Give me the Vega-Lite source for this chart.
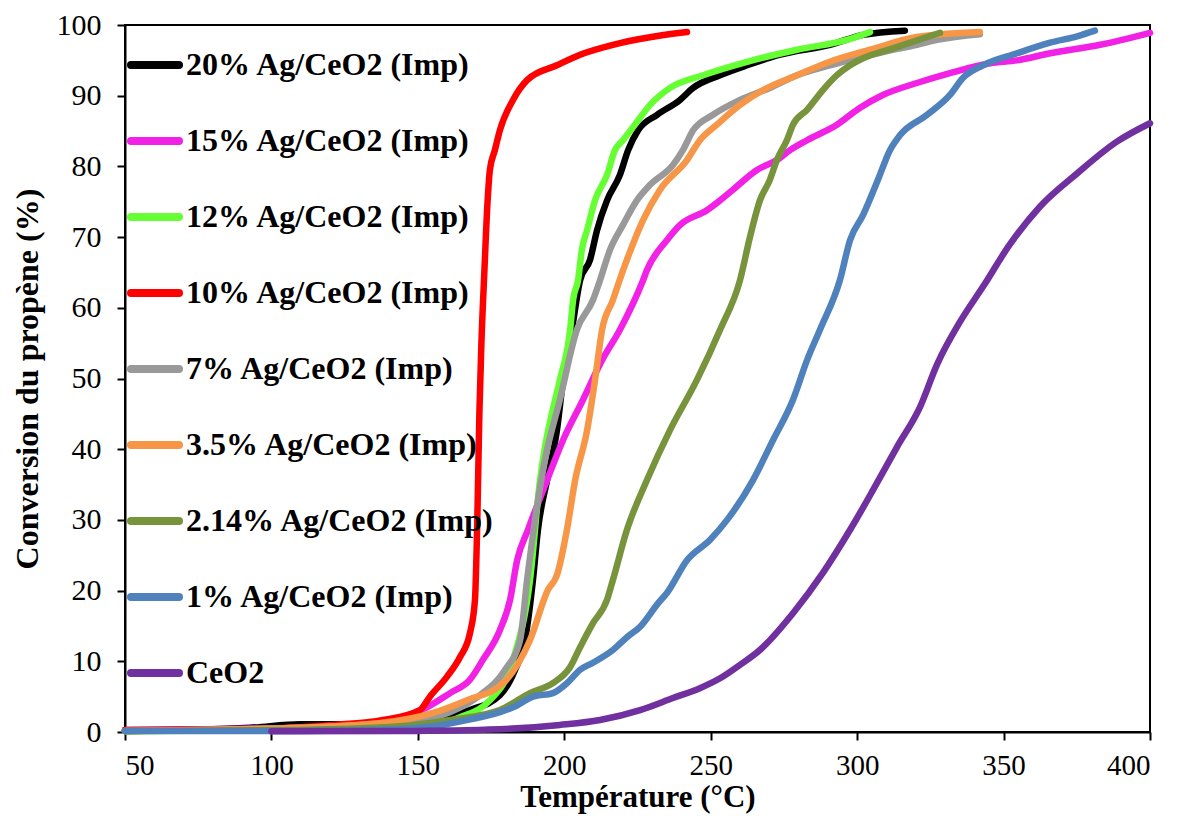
{
"$schema": "https://vega.github.io/schema/vega-lite/v6.json",
"width": 1025, "height": 707,
"autosize": {"type": "none"},
"padding": {"left": 125, "top": 25, "right": 27, "bottom": 84},
"background": "white",
"config": {"view": {"stroke": "black", "strokeWidth": 2}, "font": "Liberation Serif"},
"data": {"values": [
{"s":"20% Ag/CeO2 (Imp)","T":50,"C":0.15},{"s":"20% Ag/CeO2 (Imp)","T":92.7,"C":0.6},{"s":"20% Ag/CeO2 (Imp)","T":109.8,"C":1.1},{"s":"20% Ag/CeO2 (Imp)","T":126.8,"C":1.1},{"s":"20% Ag/CeO2 (Imp)","T":150,"C":1.4},{"s":"20% Ag/CeO2 (Imp)","T":167.8,"C":3.1},{"s":"20% Ag/CeO2 (Imp)","T":178,"C":5.2},{"s":"20% Ag/CeO2 (Imp)","T":183.2,"C":8.8},{"s":"20% Ag/CeO2 (Imp)","T":186.6,"C":13},{"s":"20% Ag/CeO2 (Imp)","T":189.3,"C":21.5},{"s":"20% Ag/CeO2 (Imp)","T":191,"C":28.6},{"s":"20% Ag/CeO2 (Imp)","T":194.1,"C":35.6},{"s":"20% Ag/CeO2 (Imp)","T":197.5,"C":42.7},{"s":"20% Ag/CeO2 (Imp)","T":199.6,"C":49.8},{"s":"20% Ag/CeO2 (Imp)","T":202.6,"C":56.9},{"s":"20% Ag/CeO2 (Imp)","T":205.4,"C":63.9},{"s":"20% Ag/CeO2 (Imp)","T":208.8,"C":66.8},{"s":"20% Ag/CeO2 (Imp)","T":211.2,"C":71},{"s":"20% Ag/CeO2 (Imp)","T":214.6,"C":75.2},{"s":"20% Ag/CeO2 (Imp)","T":219,"C":78.8},{"s":"20% Ag/CeO2 (Imp)","T":221.8,"C":82.3},{"s":"20% Ag/CeO2 (Imp)","T":225.2,"C":85.1},{"s":"20% Ag/CeO2 (Imp)","T":231.7,"C":87.3},{"s":"20% Ag/CeO2 (Imp)","T":239.5,"C":89.4},{"s":"20% Ag/CeO2 (Imp)","T":244,"C":91.1},{"s":"20% Ag/CeO2 (Imp)","T":253.2,"C":92.9},{"s":"20% Ag/CeO2 (Imp)","T":262.4,"C":94.3},{"s":"20% Ag/CeO2 (Imp)","T":273.7,"C":95.8},{"s":"20% Ag/CeO2 (Imp)","T":290.7,"C":97.2},{"s":"20% Ag/CeO2 (Imp)","T":302,"C":98.6},{"s":"20% Ag/CeO2 (Imp)","T":316.3,"C":99.2},
{"s":"15% Ag/CeO2 (Imp)","T":50,"C":0.3},{"s":"15% Ag/CeO2 (Imp)","T":109.8,"C":0.6},{"s":"15% Ag/CeO2 (Imp)","T":138.1,"C":1.4},{"s":"15% Ag/CeO2 (Imp)","T":153.1,"C":3.5},{"s":"15% Ag/CeO2 (Imp)","T":161,"C":5.5},{"s":"15% Ag/CeO2 (Imp)","T":167.8,"C":7.4},{"s":"15% Ag/CeO2 (Imp)","T":172.2,"C":10.2},{"s":"15% Ag/CeO2 (Imp)","T":178,"C":14.4},{"s":"15% Ag/CeO2 (Imp)","T":181.5,"C":18.7},{"s":"15% Ag/CeO2 (Imp)","T":183.9,"C":24.3},{"s":"15% Ag/CeO2 (Imp)","T":187.6,"C":28.6},{"s":"15% Ag/CeO2 (Imp)","T":194.1,"C":35.6},{"s":"15% Ag/CeO2 (Imp)","T":199.6,"C":41.3},{"s":"15% Ag/CeO2 (Imp)","T":206.4,"C":47},{"s":"15% Ag/CeO2 (Imp)","T":212.9,"C":52.6},{"s":"15% Ag/CeO2 (Imp)","T":219,"C":56.9},{"s":"15% Ag/CeO2 (Imp)","T":226.9,"C":63.9},{"s":"15% Ag/CeO2 (Imp)","T":228.2,"C":65.3},{"s":"15% Ag/CeO2 (Imp)","T":235.1,"C":69.6},{"s":"15% Ag/CeO2 (Imp)","T":239.5,"C":71.7},{"s":"15% Ag/CeO2 (Imp)","T":248.7,"C":73.8},{"s":"15% Ag/CeO2 (Imp)","T":253.2,"C":75.2},{"s":"15% Ag/CeO2 (Imp)","T":257.6,"C":76.7},{"s":"15% Ag/CeO2 (Imp)","T":265.8,"C":79.5},{"s":"15% Ag/CeO2 (Imp)","T":272.6,"C":80.9},{"s":"15% Ag/CeO2 (Imp)","T":277.1,"C":82.3},{"s":"15% Ag/CeO2 (Imp)","T":282.9,"C":83.7},{"s":"15% Ag/CeO2 (Imp)","T":293.1,"C":85.9},{"s":"15% Ag/CeO2 (Imp)","T":301,"C":88.3},{"s":"15% Ag/CeO2 (Imp)","T":308.8,"C":90.1},{"s":"15% Ag/CeO2 (Imp)","T":320.4,"C":91.8},{"s":"15% Ag/CeO2 (Imp)","T":331.7,"C":93.2},{"s":"15% Ag/CeO2 (Imp)","T":345.4,"C":94.6},{"s":"15% Ag/CeO2 (Imp)","T":354.6,"C":95},{"s":"15% Ag/CeO2 (Imp)","T":365.9,"C":96},{"s":"15% Ag/CeO2 (Imp)","T":383,"C":97.2},{"s":"15% Ag/CeO2 (Imp)","T":400,"C":98.9},
{"s":"12% Ag/CeO2 (Imp)","T":50,"C":0.1},{"s":"12% Ag/CeO2 (Imp)","T":109.8,"C":0.3},{"s":"12% Ag/CeO2 (Imp)","T":150,"C":0.6},{"s":"12% Ag/CeO2 (Imp)","T":164.4,"C":2.1},{"s":"12% Ag/CeO2 (Imp)","T":174.6,"C":4.5},{"s":"12% Ag/CeO2 (Imp)","T":182.5,"C":10.2},{"s":"12% Ag/CeO2 (Imp)","T":188.3,"C":21.5},{"s":"12% Ag/CeO2 (Imp)","T":191.7,"C":35.6},{"s":"12% Ag/CeO2 (Imp)","T":193.4,"C":40.3},{"s":"12% Ag/CeO2 (Imp)","T":195.8,"C":45.1},{"s":"12% Ag/CeO2 (Imp)","T":198.5,"C":49.8},{"s":"12% Ag/CeO2 (Imp)","T":202,"C":56.9},{"s":"12% Ag/CeO2 (Imp)","T":203,"C":61.1},{"s":"12% Ag/CeO2 (Imp)","T":204.7,"C":63.9},{"s":"12% Ag/CeO2 (Imp)","T":206,"C":68.2},{"s":"12% Ag/CeO2 (Imp)","T":207.8,"C":71},{"s":"12% Ag/CeO2 (Imp)","T":210.5,"C":75.2},{"s":"12% Ag/CeO2 (Imp)","T":214.6,"C":78.8},{"s":"12% Ag/CeO2 (Imp)","T":217.3,"C":82.3},{"s":"12% Ag/CeO2 (Imp)","T":220,"C":83.7},{"s":"12% Ag/CeO2 (Imp)","T":224.1,"C":85.9},{"s":"12% Ag/CeO2 (Imp)","T":229.3,"C":88.7},{"s":"12% Ag/CeO2 (Imp)","T":236.1,"C":91.1},{"s":"12% Ag/CeO2 (Imp)","T":247.4,"C":92.9},{"s":"12% Ag/CeO2 (Imp)","T":262.4,"C":94.8},{"s":"12% Ag/CeO2 (Imp)","T":279.5,"C":96.5},{"s":"12% Ag/CeO2 (Imp)","T":296.5,"C":97.9},{"s":"12% Ag/CeO2 (Imp)","T":304.4,"C":99},
{"s":"10% Ag/CeO2 (Imp)","T":50,"C":0.3},{"s":"10% Ag/CeO2 (Imp)","T":92.7,"C":0.4},{"s":"10% Ag/CeO2 (Imp)","T":121,"C":1.0},{"s":"10% Ag/CeO2 (Imp)","T":138.1,"C":1.7},{"s":"10% Ag/CeO2 (Imp)","T":150.7,"C":3.1},{"s":"10% Ag/CeO2 (Imp)","T":154.1,"C":5},{"s":"10% Ag/CeO2 (Imp)","T":159.9,"C":7.8},{"s":"10% Ag/CeO2 (Imp)","T":164.4,"C":10.6},{"s":"10% Ag/CeO2 (Imp)","T":167.8,"C":14},{"s":"10% Ag/CeO2 (Imp)","T":169.5,"C":18.7},{"s":"10% Ag/CeO2 (Imp)","T":170.3,"C":30},{"s":"10% Ag/CeO2 (Imp)","T":171,"C":45},{"s":"10% Ag/CeO2 (Imp)","T":171.7,"C":55},{"s":"10% Ag/CeO2 (Imp)","T":172.7,"C":65},{"s":"10% Ag/CeO2 (Imp)","T":173.8,"C":75},{"s":"10% Ag/CeO2 (Imp)","T":174.6,"C":79.5},{"s":"10% Ag/CeO2 (Imp)","T":176.3,"C":82.3},{"s":"10% Ag/CeO2 (Imp)","T":178,"C":85.1},{"s":"10% Ag/CeO2 (Imp)","T":182.5,"C":89.4},{"s":"10% Ag/CeO2 (Imp)","T":187.3,"C":92.2},{"s":"10% Ag/CeO2 (Imp)","T":197.5,"C":94.3},{"s":"10% Ag/CeO2 (Imp)","T":205.4,"C":95.8},{"s":"10% Ag/CeO2 (Imp)","T":216.6,"C":97.2},{"s":"10% Ag/CeO2 (Imp)","T":228.2,"C":98.2},{"s":"10% Ag/CeO2 (Imp)","T":241.9,"C":99.0},
{"s":"7% Ag/CeO2 (Imp)","T":50,"C":0.15},{"s":"7% Ag/CeO2 (Imp)","T":109.8,"C":0.6},{"s":"7% Ag/CeO2 (Imp)","T":150,"C":1.7},{"s":"7% Ag/CeO2 (Imp)","T":160.9,"C":2.8},{"s":"7% Ag/CeO2 (Imp)","T":171.2,"C":5.2},{"s":"7% Ag/CeO2 (Imp)","T":179.8,"C":8.8},{"s":"7% Ag/CeO2 (Imp)","T":184.9,"C":13},{"s":"7% Ag/CeO2 (Imp)","T":187.3,"C":21.5},{"s":"7% Ag/CeO2 (Imp)","T":190,"C":30},{"s":"7% Ag/CeO2 (Imp)","T":193.4,"C":38.5},{"s":"7% Ag/CeO2 (Imp)","T":198.5,"C":47},{"s":"7% Ag/CeO2 (Imp)","T":204.3,"C":56.9},{"s":"7% Ag/CeO2 (Imp)","T":209.8,"C":61.1},{"s":"7% Ag/CeO2 (Imp)","T":212.2,"C":63.9},{"s":"7% Ag/CeO2 (Imp)","T":215.6,"C":68.2},{"s":"7% Ag/CeO2 (Imp)","T":220,"C":71.7},{"s":"7% Ag/CeO2 (Imp)","T":224.8,"C":75.2},{"s":"7% Ag/CeO2 (Imp)","T":229.3,"C":77.4},{"s":"7% Ag/CeO2 (Imp)","T":237.1,"C":80.2},{"s":"7% Ag/CeO2 (Imp)","T":240.5,"C":82.3},{"s":"7% Ag/CeO2 (Imp)","T":244,"C":85.1},{"s":"7% Ag/CeO2 (Imp)","T":250.8,"C":87.3},{"s":"7% Ag/CeO2 (Imp)","T":260,"C":89.4},{"s":"7% Ag/CeO2 (Imp)","T":270.2,"C":91.1},{"s":"7% Ag/CeO2 (Imp)","T":279.5,"C":92.9},{"s":"7% Ag/CeO2 (Imp)","T":290.7,"C":94.3},{"s":"7% Ag/CeO2 (Imp)","T":302,"C":95.5},{"s":"7% Ag/CeO2 (Imp)","T":312.2,"C":96.5},{"s":"7% Ag/CeO2 (Imp)","T":320.4,"C":97.2},{"s":"7% Ag/CeO2 (Imp)","T":327.3,"C":97.9},{"s":"7% Ag/CeO2 (Imp)","T":341.9,"C":98.7},
{"s":"3.5% Ag/CeO2 (Imp)","T":50,"C":0.15},{"s":"3.5% Ag/CeO2 (Imp)","T":109.8,"C":0.6},{"s":"3.5% Ag/CeO2 (Imp)","T":138.1,"C":1.3},{"s":"3.5% Ag/CeO2 (Imp)","T":155.2,"C":2.7},{"s":"3.5% Ag/CeO2 (Imp)","T":166.8,"C":4.5},{"s":"3.5% Ag/CeO2 (Imp)","T":179.1,"C":6.9},{"s":"3.5% Ag/CeO2 (Imp)","T":188.3,"C":13},{"s":"3.5% Ag/CeO2 (Imp)","T":194.4,"C":20.1},{"s":"3.5% Ag/CeO2 (Imp)","T":197.5,"C":22.2},{"s":"3.5% Ag/CeO2 (Imp)","T":200.9,"C":28.6},{"s":"3.5% Ag/CeO2 (Imp)","T":203.7,"C":35.6},{"s":"3.5% Ag/CeO2 (Imp)","T":207.8,"C":42.7},{"s":"3.5% Ag/CeO2 (Imp)","T":210.5,"C":49.8},{"s":"3.5% Ag/CeO2 (Imp)","T":212.9,"C":56.9},{"s":"3.5% Ag/CeO2 (Imp)","T":216.6,"C":61.1},{"s":"3.5% Ag/CeO2 (Imp)","T":218.3,"C":63.2},{"s":"3.5% Ag/CeO2 (Imp)","T":221.4,"C":66.8},{"s":"3.5% Ag/CeO2 (Imp)","T":226.9,"C":72.4},{"s":"3.5% Ag/CeO2 (Imp)","T":232.7,"C":76.7},{"s":"3.5% Ag/CeO2 (Imp)","T":241.9,"C":80.9},{"s":"3.5% Ag/CeO2 (Imp)","T":246.3,"C":83.7},{"s":"3.5% Ag/CeO2 (Imp)","T":252.1,"C":85.9},{"s":"3.5% Ag/CeO2 (Imp)","T":260,"C":88.7},{"s":"3.5% Ag/CeO2 (Imp)","T":267.9,"C":90.8},{"s":"3.5% Ag/CeO2 (Imp)","T":279.5,"C":92.9},{"s":"3.5% Ag/CeO2 (Imp)","T":290.7,"C":94.8},{"s":"3.5% Ag/CeO2 (Imp)","T":304.4,"C":96.5},{"s":"3.5% Ag/CeO2 (Imp)","T":320.4,"C":98.3},{"s":"3.5% Ag/CeO2 (Imp)","T":341.9,"C":99},
{"s":"2.14% Ag/CeO2 (Imp)","T":50,"C":0.15},{"s":"2.14% Ag/CeO2 (Imp)","T":109.8,"C":0.3},{"s":"2.14% Ag/CeO2 (Imp)","T":143.9,"C":0.8},{"s":"2.14% Ag/CeO2 (Imp)","T":161,"C":1.7},{"s":"2.14% Ag/CeO2 (Imp)","T":178,"C":3.1},{"s":"2.14% Ag/CeO2 (Imp)","T":188.3,"C":5.5},{"s":"2.14% Ag/CeO2 (Imp)","T":196.1,"C":6.9},{"s":"2.14% Ag/CeO2 (Imp)","T":202,"C":9.2},{"s":"2.14% Ag/CeO2 (Imp)","T":205.4,"C":12},{"s":"2.14% Ag/CeO2 (Imp)","T":209.8,"C":15.4},{"s":"2.14% Ag/CeO2 (Imp)","T":214.6,"C":18.7},{"s":"2.14% Ag/CeO2 (Imp)","T":216.6,"C":21.5},{"s":"2.14% Ag/CeO2 (Imp)","T":221.4,"C":28.6},{"s":"2.14% Ag/CeO2 (Imp)","T":228.2,"C":35.6},{"s":"2.14% Ag/CeO2 (Imp)","T":236.1,"C":42.7},{"s":"2.14% Ag/CeO2 (Imp)","T":245.3,"C":49.8},{"s":"2.14% Ag/CeO2 (Imp)","T":253.2,"C":56.9},{"s":"2.14% Ag/CeO2 (Imp)","T":260,"C":63.9},{"s":"2.14% Ag/CeO2 (Imp)","T":263.4,"C":70},{"s":"2.14% Ag/CeO2 (Imp)","T":266.8,"C":75.2},{"s":"2.14% Ag/CeO2 (Imp)","T":270.2,"C":78.1},{"s":"2.14% Ag/CeO2 (Imp)","T":272.6,"C":80.9},{"s":"2.14% Ag/CeO2 (Imp)","T":276,"C":83.7},{"s":"2.14% Ag/CeO2 (Imp)","T":278.1,"C":85.9},{"s":"2.14% Ag/CeO2 (Imp)","T":282.9,"C":88},{"s":"2.14% Ag/CeO2 (Imp)","T":288.3,"C":90.8},{"s":"2.14% Ag/CeO2 (Imp)","T":293.1,"C":92.9},{"s":"2.14% Ag/CeO2 (Imp)","T":297.6,"C":94.3},{"s":"2.14% Ag/CeO2 (Imp)","T":302,"C":95.3},{"s":"2.14% Ag/CeO2 (Imp)","T":312.2,"C":96.7},{"s":"2.14% Ag/CeO2 (Imp)","T":328.3,"C":98.9},
{"s":"1% Ag/CeO2 (Imp)","T":50,"C":0.15},{"s":"1% Ag/CeO2 (Imp)","T":109.8,"C":0.15},{"s":"1% Ag/CeO2 (Imp)","T":143.9,"C":0.4},{"s":"1% Ag/CeO2 (Imp)","T":155.2,"C":0.8},{"s":"1% Ag/CeO2 (Imp)","T":166.8,"C":1.7},{"s":"1% Ag/CeO2 (Imp)","T":178,"C":2.8},{"s":"1% Ag/CeO2 (Imp)","T":182.5,"C":3.5},{"s":"1% Ag/CeO2 (Imp)","T":189.3,"C":5},{"s":"1% Ag/CeO2 (Imp)","T":196.1,"C":5.5},{"s":"1% Ag/CeO2 (Imp)","T":200.9,"C":6.9},{"s":"1% Ag/CeO2 (Imp)","T":205.4,"C":8.8},{"s":"1% Ag/CeO2 (Imp)","T":209.8,"C":9.8},{"s":"1% Ag/CeO2 (Imp)","T":216.6,"C":11.6},{"s":"1% Ag/CeO2 (Imp)","T":221.4,"C":13.4},{"s":"1% Ag/CeO2 (Imp)","T":225.9,"C":14.9},{"s":"1% Ag/CeO2 (Imp)","T":232,"C":18.2},{"s":"1% Ag/CeO2 (Imp)","T":235.1,"C":19.7},{"s":"1% Ag/CeO2 (Imp)","T":241.9,"C":24.3},{"s":"1% Ag/CeO2 (Imp)","T":249.8,"C":27.2},{"s":"1% Ag/CeO2 (Imp)","T":255.6,"C":30},{"s":"1% Ag/CeO2 (Imp)","T":264.4,"C":35.6},{"s":"1% Ag/CeO2 (Imp)","T":271.3,"C":41.3},{"s":"1% Ag/CeO2 (Imp)","T":278.1,"C":47},{"s":"1% Ag/CeO2 (Imp)","T":282.9,"C":52.6},{"s":"1% Ag/CeO2 (Imp)","T":287.3,"C":56.9},{"s":"1% Ag/CeO2 (Imp)","T":294.1,"C":63.9},{"s":"1% Ag/CeO2 (Imp)","T":297.6,"C":69.6},{"s":"1% Ag/CeO2 (Imp)","T":302,"C":73.1},{"s":"1% Ag/CeO2 (Imp)","T":307.1,"C":78.1},{"s":"1% Ag/CeO2 (Imp)","T":311.2,"C":82.3},{"s":"1% Ag/CeO2 (Imp)","T":314.6,"C":84.4},{"s":"1% Ag/CeO2 (Imp)","T":323.9,"C":87.3},{"s":"1% Ag/CeO2 (Imp)","T":331.7,"C":90.1},{"s":"1% Ag/CeO2 (Imp)","T":336.1,"C":92.5},{"s":"1% Ag/CeO2 (Imp)","T":343,"C":94.3},{"s":"1% Ag/CeO2 (Imp)","T":354.6,"C":96},{"s":"1% Ag/CeO2 (Imp)","T":365.9,"C":97.5},{"s":"1% Ag/CeO2 (Imp)","T":375.1,"C":98.4},{"s":"1% Ag/CeO2 (Imp)","T":381.2,"C":99.2},
{"s":"CeO2","T":100,"C":0.1},{"s":"CeO2","T":143.9,"C":0.15},{"s":"CeO2","T":178,"C":0.4},{"s":"CeO2","T":198.5,"C":1.0},{"s":"CeO2","T":212.2,"C":1.7},{"s":"CeO2","T":225.9,"C":3.1},{"s":"CeO2","T":237.1,"C":4.8},{"s":"CeO2","T":246.3,"C":6.2},{"s":"CeO2","T":253.2,"C":7.6},{"s":"CeO2","T":260,"C":9.5},{"s":"CeO2","T":266.8,"C":11.6},{"s":"CeO2","T":278.1,"C":16.8},{"s":"CeO2","T":288.3,"C":22.5},{"s":"CeO2","T":297.6,"C":28.6},{"s":"CeO2","T":305.4,"C":34.2},{"s":"CeO2","T":313.6,"C":40.3},{"s":"CeO2","T":321.5,"C":46},{"s":"CeO2","T":327.3,"C":52},{"s":"CeO2","T":335.1,"C":58},{"s":"CeO2","T":343,"C":63},{"s":"CeO2","T":352.2,"C":69},{"s":"CeO2","T":362.4,"C":74.3},{"s":"CeO2","T":375.1,"C":79},{"s":"CeO2","T":388.7,"C":83.5},{"s":"CeO2","T":400,"C":86.1}
]},
"mark": {"type": "line", "strokeWidth": 6.5, "strokeCap": "round", "strokeJoin": "round", "interpolate": "monotone"},
"encoding": {
  "x": {"field": "T", "type": "quantitative",
    "scale": {"domain": [50, 400], "nice": false, "zero": false},
    "axis": {"values": [50,100,150,200,250,300,350,400], "grid": false, "domainColor": "black", "domainWidth": 2, "tickColor": "black", "tickWidth": 2, "tickSize": 8, "labelFontSize": 29, "labelColor": "black", "labelFont": "Liberation Serif", "labelPadding": 11, "title": "Température (°C)", "titleFont": "Liberation Serif", "titleFontSize": 31, "titleFontWeight": "bold", "titleColor": "black", "titlePadding": 2}},
  "y": {"field": "C", "type": "quantitative",
    "scale": {"domain": [0, 100], "nice": false},
    "axis": {"values": [0,10,20,30,40,50,60,70,80,90,100], "grid": false, "domainColor": "black", "domainWidth": 2, "tickColor": "black", "tickWidth": 2, "tickSize": 8, "labelFontSize": 30, "labelColor": "black", "labelFont": "Liberation Serif", "labelPadding": 16, "title": "Conversion du propène (%)", "titleFont": "Liberation Serif", "titleFontSize": 32, "titleFontWeight": "bold", "titleColor": "black", "titlePadding": 12}},
  "color": {"field": "s", "type": "nominal",
    "scale": {"domain": ["20% Ag/CeO2 (Imp)","15% Ag/CeO2 (Imp)","12% Ag/CeO2 (Imp)","10% Ag/CeO2 (Imp)","7% Ag/CeO2 (Imp)","3.5% Ag/CeO2 (Imp)","2.14% Ag/CeO2 (Imp)","1% Ag/CeO2 (Imp)","CeO2"],
              "range": ["#000000","#F122E6","#66FF33","#FF0000","#999999","#F79646","#77933C","#4F81BD","#7030A0"]},
    "legend": {"orient": "none", "legendX": 2, "legendY": 12, "title": null, "symbolType": "stroke", "symbolSize": 2304, "symbolStrokeWidth": 8, "labelFontSize": 32, "labelFont": "Liberation Serif", "labelFontWeight": "bold", "labelColor": "black", "rowPadding": 32, "labelOffset": 3, "labelLimit": 500,
      "encode": {"symbols": {"update": {"strokeCap": {"value": "round"}}}}}}
}
}
